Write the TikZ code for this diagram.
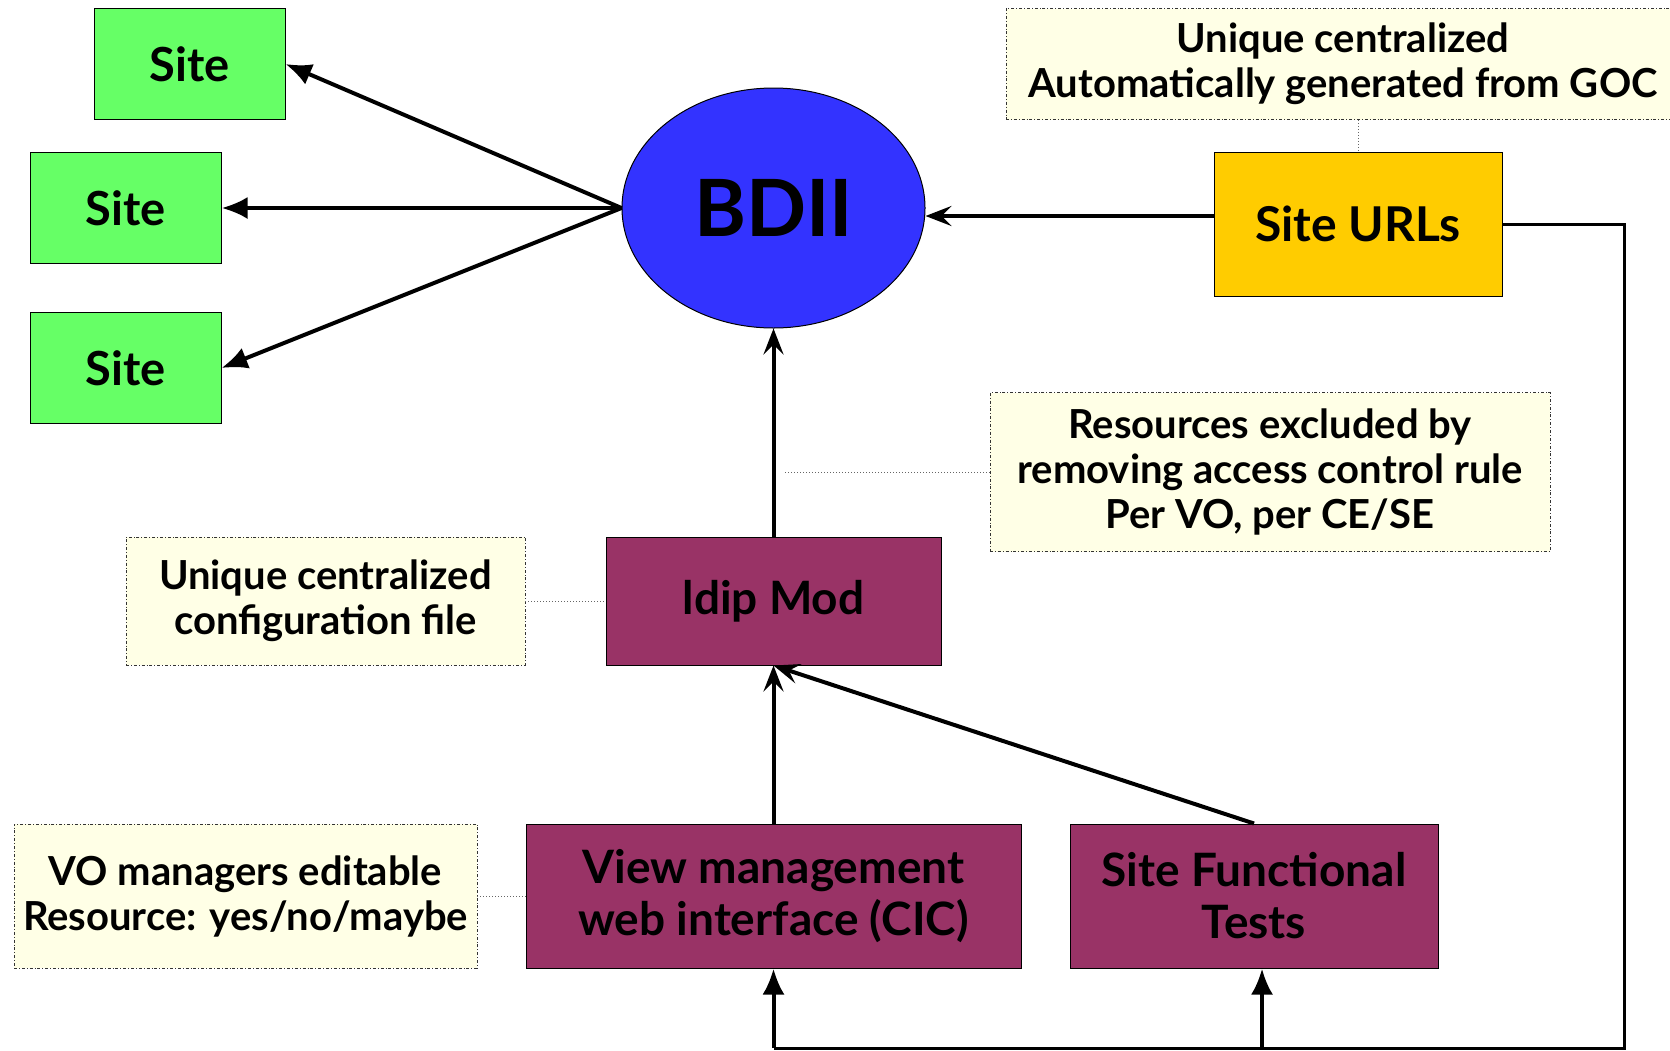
\documentclass[tikz,border=0pt]{standalone}
\usepackage{fontspec}
\setmainfont{Lato}
\usetikzlibrary{arrows.meta,shapes.geometric}
\definecolor{sitegreen}{HTML}{66FF66}
\definecolor{bdiiblue}{HTML}{3333FF}
\definecolor{urlyellow}{HTML}{FFCC00}
\definecolor{modpurple}{HTML}{993366}
\definecolor{notefill}{HTML}{FFFFE6}
\tikzset{
  box/.style={draw=black, line width=1pt, rectangle, align=center, font=\bfseries},
  sitebox/.style={box, fill=sitegreen, minimum width=191pt, minimum height=111pt, font=\bfseries\fontsize{47}{54}\selectfont},
  modbox/.style={box, fill=modpurple, font=\bfseries\fontsize{46}{52}\selectfont},
  notebox/.style={draw=black!80, line width=0.8pt, dash dot, fill=notefill, rectangle, align=center, font=\bfseries\fontsize{40}{45}\selectfont},
  flow/.style={line width=4pt, -{Latex[length=26pt,width=22pt]}},
  sflow/.style={line width=4pt, -{Stealth[length=26pt,width=20pt,inset=10pt]}},
  link/.style={draw=black!60, line width=1pt, dotted},
}
\begin{document}
\begin{tikzpicture}[x=1pt,y=-1pt]
\useasboundingbox (0,0) rectangle (1670,1050);
% nodes
\node[sitebox] (s1) at (189.5,64) {Site};
\node[sitebox] (s2) at (125.5,208) {Site};
\node[sitebox] (s3) at (125.5,368) {Site};
\node[ellipse, draw=black, line width=1pt, fill=bdiiblue, minimum width=303pt, minimum height=240pt, inner sep=0pt, font=\bfseries\fontsize{79}{86}\selectfont] (bdii) at (773.5,208) {BDII};
\node[box, fill=urlyellow, minimum width=288pt, minimum height=144pt, font=\bfseries\fontsize{48}{54}\selectfont] (urls) at (1358,224) {Site URLs};
\node[notebox, minimum width=674pt, minimum height=111pt] (gocnote) at (1343,64) {Unique centralized\\Automatically generated from GOC};
\node[notebox, minimum width=560pt, minimum height=159pt] (resnote) at (1270,472) {Resources excluded by\\removing access control rule\\Per VO, per CE/SE};
\node[modbox, minimum width=335pt, minimum height=128pt] (ldip) at (773.5,601) {ldip Mod};
\node[notebox, minimum width=399pt, minimum height=128pt] (cfgnote) at (325.5,601) {Unique centralized\\configuration file};
\node[modbox, minimum width=495pt, minimum height=144pt] (view) at (773.5,896) {View management\\web interface (CIC)};
\node[modbox, minimum width=368pt, minimum height=144pt] (sft) at (1254,896) {Site Functional\\Tests};
\node[notebox, minimum width=463pt, minimum height=144pt] (vonote) at (245.5,896) {VO managers editable\\Resource: yes/no/maybe};
% coordinates
\coordinate (arrowpt) at (785,472);
\coordinate (urlout) at (1214,216);
\coordinate (rtop) at (1624,224);
\coordinate (rbot) at (1624,1048);
\coordinate (vbot) at (773.5,1048);
\coordinate (sbot) at (1262,1048);
% connectors
\draw[flow] (bdii.west) -- (s1.east);
\draw[flow] (bdii.west) -- (s2.east);
\draw[flow] (bdii.west) -- (s3.east);
\draw[sflow] (urlout) -- (bdii.east |- urlout);
\draw[sflow] (ldip.north) -- (bdii.south);
\draw[sflow] (view.north) -- (ldip.south);
\draw[sflow] (sft.north) -- (ldip.south);
\draw[line width=3pt] (urls.east |- rtop) -- (rtop) -- (rbot) -- (vbot);
\draw[flow] (vbot) -- (view.south);
\draw[flow] (sbot) -- (sbot |- sft.south);
\draw[link] (gocnote.south -| urls.north) -- (urls.north);
\draw[link] (resnote.west) -- (arrowpt);
\draw[link] (cfgnote.east) -- (ldip.west);
\draw[link] (vonote.east) -- (view.west);
\end{tikzpicture}
\end{document}
